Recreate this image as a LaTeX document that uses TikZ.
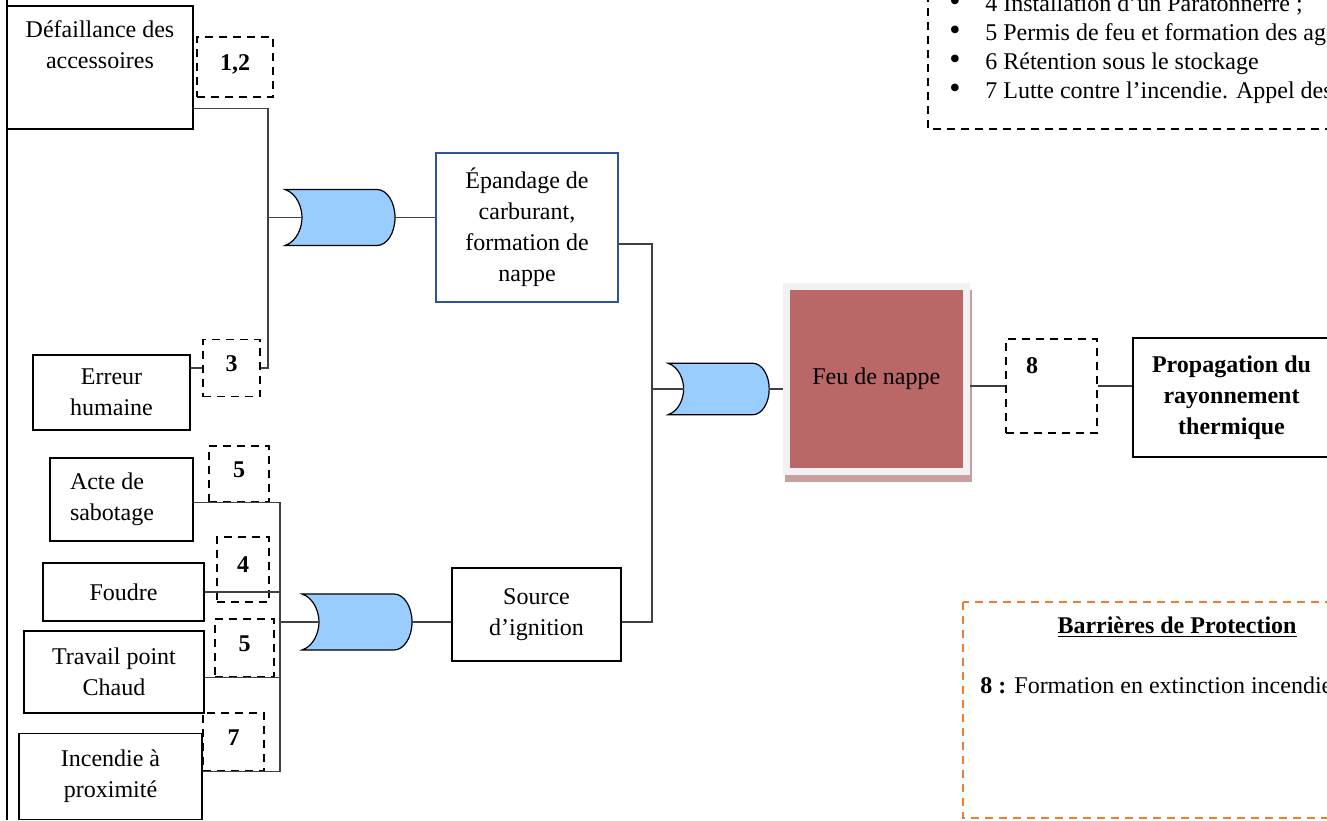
\documentclass[tikz,border=0pt,12pt]{standalone}
\usepackage{fontspec}
\setmainfont{Liberation Serif}
\usetikzlibrary{calc}
\definecolor{gateblue}{HTML}{99CCFF}
\definecolor{feured}{RGB}{185,103,103}
\definecolor{feushadow}{RGB}{200,160,160}
\definecolor{feuframe}{RGB}{241,241,241}
\definecolor{epablue}{RGB}{47,84,150}
\definecolor{barorange}{RGB}{237,125,49}
\newcommand{\diagfont}{\fontsize{12}{15.5}\selectfont}
\newcommand{\celltop}[3]{\parbox[c][#1][t]{#2}{\centering#3}}
\newcommand{\puce}{\makebox[18pt][l]{\fontsize{16}{15.5}\selectfont\textbullet}}

\tikzset{
  box/.style={draw, line width=0.6pt, inner sep=0pt, align=center},
  barrier/.style={draw, line width=0.7pt, dash pattern=on 4pt off 3pt, inner sep=0pt,
    font=\diagfont\bfseries, text height=8pt, text depth=5pt},
  feubox/.style={fill=feured, draw=feuframe, line width=3.5pt,
    minimum width=89.75pt, minimum height=92.25pt,
    preaction={draw=feushadow, fill=feushadow, transform canvas={xshift=1pt, yshift=-3.5pt}}},
  wire/.style={draw=black!75, line width=0.6pt},
  orgate/.pic={
    \draw[line width=0.6pt, fill=gateblue] (0,-28) -- (92,-28)
      arc[start angle=-90, end angle=90, x radius=18, y radius=28]
      -- (0,28) .. controls (12,24) and (17,10) .. (17,0)
      .. controls (17,-10) and (12,-24) .. (0,-28) -- cycle;
    \coordinate (-in) at (17,0);
    \coordinate (-out) at (110,0);
  }
}

\begin{document}
\begin{tikzpicture}[x=0.5pt, y=-0.5pt, font=\diagfont]
\useasboundingbox (0,0) rectangle (1327,820);
\clip (0,0) rectangle (1327,820);
% bord de page
\draw[line width=0.8pt] (7,0) -- (7,820);

% causes, branche haute
\node[box] (def) at (100,67.5) {\celltop{61.5pt}{93pt}{\vspace*{7.5pt}Défaillance des\\accessoires}};
\node[barrier, minimum width=38pt, minimum height=30pt] (b12) at (235,67) {1,2};
\node[box, minimum width=78.5pt, minimum height=37.5pt] (err) at (111.5,392.5) {Erreur\\humaine};
\node[barrier, minimum width=28.5pt, minimum height=28.5pt] (b3) at (231.5,368) {3};

% causes, branche basse
\node[box, minimum width=71.5pt, minimum height=41.5pt, text width=51.5pt, inner xsep=10pt, align=flush left] (acte) at (121.5,499.5) {Acte de\\sabotage};
\node[barrier, minimum width=30pt, minimum height=28pt] (b5a) at (239,474) {5};
\node[box, minimum width=80.5pt, minimum height=29pt] (foudre) at (123.5,592) {Foudre};
\node[barrier, minimum width=26pt, minimum height=32.5pt] (b4) at (243,569.5) {4};
\node[box, minimum width=90pt, minimum height=41pt] (trav) at (114,672) {Travail point\\Chaud};
\node[barrier, minimum width=29.5pt, minimum height=29pt] (b5b) at (244.5,648) {5};
\node[box, minimum width=91.5pt, minimum height=43pt] (inc) at (110.5,776.5) {Incendie à\\proximité};
\node[barrier, minimum width=30.5pt, minimum height=29pt] (b7) at (233.5,742) {7};

% evenements
\node[box, draw=epablue, minimum width=91pt, minimum height=74.5pt] (epa) at (527,227.5) {Épandage de\\carburant,\\formation de\\nappe};
\node[box, minimum width=84.5pt, minimum height=46.5pt] (src) at (536.5,614.5) {Source\\d’ignition};
\node[feubox] (feu) at (876.25,378.75) {Feu de nappe};
\node[barrier, minimum width=45.5pt, minimum height=47pt, text width=25.5pt, inner xsep=10pt, align=left, text depth=21pt] (b8) at (1051.5,386) {8};
\node[box, font=\diagfont\bfseries, minimum width=98.5pt, minimum height=59.5pt] (prop) at (1231.5,397.5) {Propagation du\\rayonnement\\thermique};

% portes OU
\pic (g1) at (285,217.5) {orgate};
\pic[scale=0.92] (g2) at (668,389) {orgate};
\pic (g3) at (302,622) {orgate};

\coordinate (j1) at (268,217.5);
\coordinate (j2) at (652,389);
\coordinate (j3) at (280,622);

% liaisons
\draw[wire] ([yshift=10.5pt]def.south east) -| (j1) |- (b3.east);
\draw[wire] (j1) -- (g1-in);
\draw[wire] (b3.west) -- (b3.west -| err.east);
\draw[wire] (g1-out) -- (g1-out -| epa.west);
\draw[wire] (acte.east |- b5a.south) -| (j3) |- (inc.east |- b7.south);
\draw[wire] (foudre.east) -- (foudre.east -| j3);
\draw[wire] (trav.east |- b5b.south) -- (b5b.south -| j3);
\draw[wire] (j3) -- (g3-in);
\draw[wire] (g3-out) -- (g3-out -| src.west);
\draw[wire] ([yshift=-8.25pt]epa.east) -| (j2) |- (g3-out -| src.east);
\draw[wire] (j2) -- (g2-in);
\draw[wire] (g2-out) -- (g2-out -| feu.west);
\draw[wire] (b8.west) -- (b8.west -| feu.east);
\draw[wire] (b8.east) -- (b8.east -| prop.west);

% barrieres de prevention (haut droite)
\draw[line width=0.7pt, dash pattern=on 4pt off 3pt] (928,-20) rectangle (1345,129);
\node[anchor=west, inner sep=0pt] (m4) at (949,5) {\puce 4 Installation d’un Paratonnerre ;};
\node[anchor=west, inner sep=0pt] (m5) at (949,35) {\puce 5 Permis de feu et formation des agents};
\node[anchor=west, inner sep=0pt] (m6) at (949,64) {\puce 6 Rétention sous le stockage};
\node[anchor=west, inner sep=0pt] (m7) at (949,93) {\puce 7 Lutte contre l’incendie. Appel des pompiers};

% barrieres de protection
\draw[barorange, line width=0.8pt, dash pattern=on 4pt off 3pt] (963,602) rectangle (1345,818);
\node (bartitle) at (1177,627) {\textbf{\underline{Barrières de Protection}}};
\node[anchor=west, inner sep=0pt] (bar8) at (980,685) {\textbf{8 :} Formation en extinction incendie};
\end{tikzpicture}
\end{document}
